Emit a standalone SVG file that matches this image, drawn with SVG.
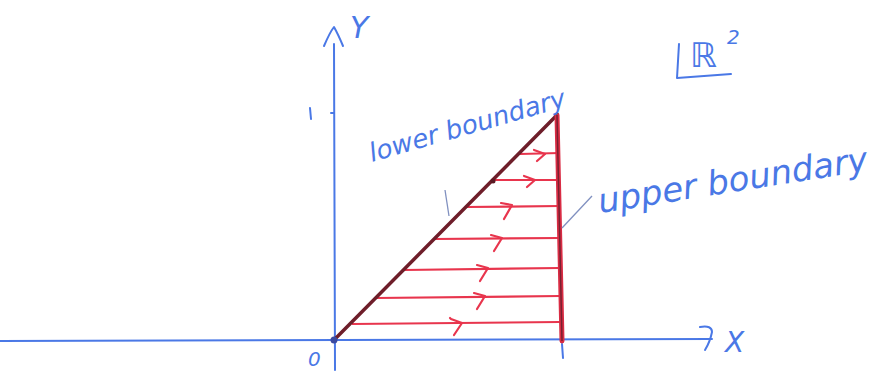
<svg xmlns="http://www.w3.org/2000/svg" width="889" height="372" viewBox="0 0 889 372">
<style>
.ax{stroke:#4a78e6;stroke-width:2;fill:none;stroke-linecap:round;stroke-linejoin:round}
.h{stroke:#e8354d;stroke-width:2.2;fill:none}
.ar{stroke:#e8354d;stroke-width:2.2;fill:none;stroke-linecap:round;stroke-linejoin:round}
.t{font-family:"DejaVu Sans","Liberation Sans",sans-serif;font-style:oblique;fill:#4a78e6}
.lead{stroke:#8090c0;stroke-width:1.3;fill:none}
</style>
<rect width="889" height="372" fill="#ffffff"/>
<g id="axes">
<path class="ax" d="M0,341 L712,339"/>
<path class="ax" d="M334,44 L335,370"/>
<path class="ax" d="M324,46 Q330,32 334,27 Q338,34 343,46"/>
<path class="ax" d="M700,327 Q712,325 712,332 Q710,342 705,350" stroke-width="2.5"/>
<path class="ax" d="M331,113 L334,113" stroke-width="3"/>
<path class="ax" d="M310,108 L311,119"/>
<path class="ax" d="M562,344 L563,358"/>
</g>
<g id="region">
<g class="h">
<path d="M520,154 L560,153"/>
<path d="M494,180 L560,180"/>
<path d="M466,207 L560,206"/>
<path d="M434,239 L560,238"/>
<path d="M404,270 L560,268"/>
<path d="M376,298 L560,296"/>
<path d="M352,324 L560,322"/>
</g>
<g class="ar">
<path d="M534,150 L545,154 L537,161"/>
<path d="M524,176 L535,180 L527,187"/>
<path d="M501,203 L512,205 L504,219"/>
<path d="M491,235 L502,238 L494,251"/>
<path d="M477,265 L488,268 L480,281"/>
<path d="M474,293 L485,296 L477,309"/>
<path d="M451,319 L462,323 L454,335 M450,318 L451,319"/>
</g>
<path d="M334,340 L557,115" stroke="#6e1e2a" stroke-width="3.5" fill="none" stroke-linecap="round"/>
<path d="M557,115 L562,341" stroke="#d92c44" stroke-width="5" fill="none" stroke-linecap="round"/>
<path d="M557,115 L562,341" stroke="#7a2030" stroke-width="1.5" fill="none"/>
<circle cx="334" cy="340" r="3.5" fill="#3b4aa0"/>
<circle cx="493" cy="181" r="2.5" fill="#5a1a24"/>
</g>
<g id="labels">
<text class="t" x="350" y="38" font-size="30">Y</text>
<text class="t" x="725" y="352" font-size="28">X</text>
<text class="t" x="308" y="366" font-size="20">0</text>
<text class="t" x="372" y="162" font-size="26" transform="rotate(-16 372 162)">lower boundary</text>
<text class="t" x="600" y="213" font-size="34" transform="rotate(-9 600 213)">upper boundary</text>
<path class="lead" d="M445,190 L449,216"/>
<path class="lead" d="M562,228 L592,196"/>
</g>
<g id="space">
<path class="ax" d="M679,44 L677,78 L731,74"/>
<text x="690" y="67" font-size="34" font-family="DejaVu Sans, sans-serif" fill="#4a78e6">ℝ</text>
<text class="t" x="727" y="44" font-size="20">2</text>
</g>
</svg>
